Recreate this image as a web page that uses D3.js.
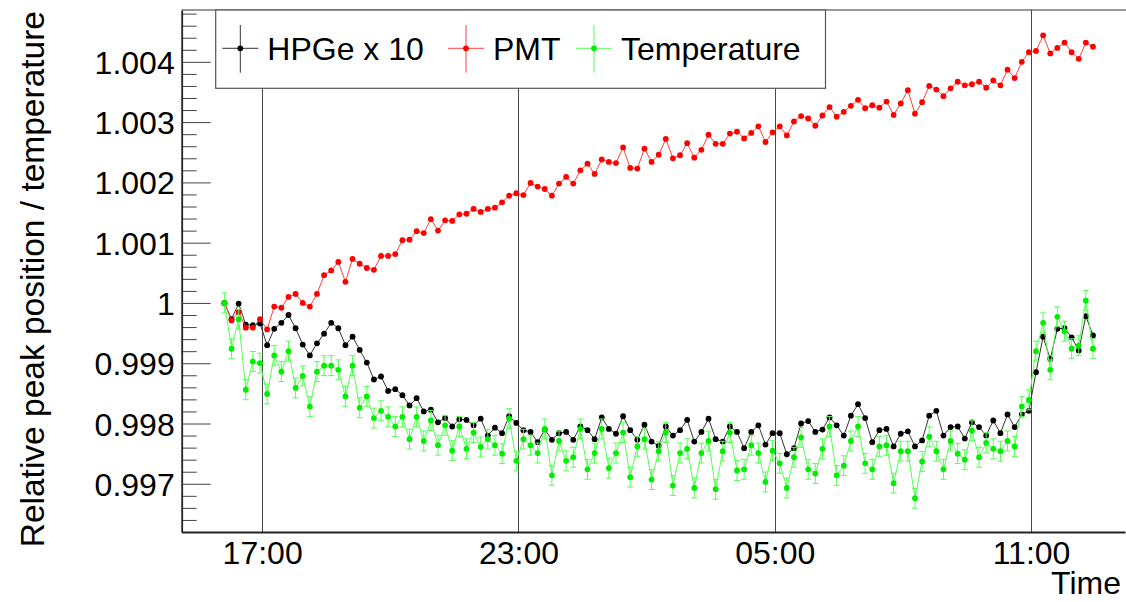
<!DOCTYPE html>
<html>
<head>
<meta charset="utf-8">
<script src="https://cdn.jsdelivr.net/npm/d3@7"></script>
<style>
  html, body { margin: 0; padding: 0; background: #ffffff; }
  svg { display: block; font-family: "Liberation Sans", Arial, Helvetica, sans-serif; }
</style>
</head>
<body>
<svg id="chart" width="1126" height="602"></svg>
<script>
// Sampling times (one reading every ten minutes, overnight run)
const sampleTimes = [
  "16:07","16:17","16:27","16:37","16:47","16:57",
  "17:07","17:17","17:27","17:37","17:47","17:57",
  "18:07","18:17","18:27","18:37","18:47","18:57",
  "19:07","19:17","19:27","19:37","19:47","19:57",
  "20:07","20:17","20:27","20:37","20:47","20:57",
  "21:07","21:17","21:27","21:37","21:47","21:57",
  "22:07","22:17","22:27","22:37","22:47","22:57",
  "23:07","23:17","23:27","23:37","23:47","23:57",
  "00:07","00:17","00:27","00:37","00:47","00:57",
  "01:07","01:17","01:27","01:37","01:47","01:57",
  "02:07","02:17","02:27","02:37","02:47","02:57",
  "03:07","03:17","03:27","03:37","03:47","03:57",
  "04:07","04:17","04:27","04:37","04:47","04:57",
  "05:07","05:17","05:27","05:37","05:47","05:57",
  "06:07","06:17","06:27","06:37","06:47","06:57",
  "07:07","07:17","07:27","07:37","07:47","07:57",
  "08:07","08:17","08:27","08:37","08:47","08:57",
  "09:07","09:17","09:27","09:37","09:47","09:57",
  "10:07","10:17","10:27","10:37","10:47","10:57",
  "11:07","11:17","11:27","11:37","11:47","11:57",
  "12:07","12:17","12:27"
];

// HPGe relative peak position, deviation scaled by 10
const hpgeX10 = [
  1.00000,0.99973,0.99999,0.99964,0.99963,0.99966,0.99930,0.99957,0.99967,0.99980,
  0.99958,0.99931,0.99913,0.99933,0.99949,0.99967,0.99958,0.99930,0.99944,0.99922,
  0.99901,0.99873,0.99878,0.99854,0.99857,0.99847,0.99830,0.99842,0.99820,0.99823,
  0.99802,0.99809,0.99795,0.99807,0.99806,0.99797,0.99808,0.99780,0.99793,0.99784,
  0.99812,0.99801,0.99789,0.99786,0.99769,0.99790,0.99773,0.99784,0.99786,0.99773,
  0.99795,0.99789,0.99774,0.99810,0.99791,0.99783,0.99812,0.99789,0.99773,0.99798,
  0.99770,0.99763,0.99795,0.99780,0.99789,0.99806,0.99770,0.99786,0.99808,0.99774,
  0.99770,0.99795,0.99786,0.99759,0.99786,0.99797,0.99765,0.99784,0.99784,0.99749,
  0.99759,0.99800,0.99804,0.99786,0.99790,0.99810,0.99797,0.99780,0.99813,0.99832,
  0.99809,0.99769,0.99789,0.99791,0.99762,0.99783,0.99787,0.99762,0.99772,0.99813,
  0.99821,0.99780,0.99794,0.99795,0.99775,0.99802,0.99794,0.99780,0.99805,0.99784,
  0.99815,0.99794,0.99815,0.99821,0.99885,0.99944,0.99907,0.99957,0.99958,0.99943,
  0.99921,0.99978,0.99946
];

// PMT relative peak position
const pmt = [
  1.00000,0.99971,0.99985,0.99959,0.99959,0.99973,0.99956,0.99994,0.99992,1.00010,
  1.00015,1.00000,0.99994,1.00015,1.00046,1.00054,1.00068,1.00035,1.00073,1.00065,
  1.00058,1.00055,1.00078,1.00078,1.00081,1.00104,1.00105,1.00119,1.00116,1.00139,
  1.00120,1.00137,1.00136,1.00147,1.00148,1.00156,1.00151,1.00156,1.00158,1.00167,
  1.00178,1.00182,1.00179,1.00199,1.00193,1.00189,1.00178,1.00198,1.00209,1.00198,
  1.00220,1.00231,1.00214,1.00238,1.00234,1.00232,1.00258,1.00224,1.00223,1.00256,
  1.00234,1.00246,1.00272,1.00240,1.00245,1.00265,1.00241,1.00254,1.00279,1.00264,
  1.00264,1.00281,1.00284,1.00273,1.00282,1.00293,1.00267,1.00283,1.00293,1.00278,
  1.00301,1.00310,1.00306,1.00294,1.00311,1.00325,1.00309,1.00317,1.00327,1.00337,
  1.00323,1.00328,1.00324,1.00334,1.00312,1.00331,1.00353,1.00314,1.00333,1.00360,
  1.00354,1.00343,1.00356,1.00367,1.00361,1.00363,1.00367,1.00357,1.00369,1.00361,
  1.00387,1.00373,1.00400,1.00416,1.00418,1.00444,1.00414,1.00423,1.00432,1.00416,
  1.00405,1.00432,1.00425
];

// Relative temperature
const temperature = [
  1.00000,0.99924,0.99973,0.99856,0.99903,0.99900,0.99849,0.99913,0.99886,0.99920,
  0.99859,0.99879,0.99828,0.99886,0.99896,0.99896,0.99889,0.99845,0.99896,0.99826,
  0.99845,0.99809,0.99821,0.99811,0.99795,0.99811,0.99774,0.99811,0.99771,0.99805,
  0.99764,0.99797,0.99755,0.99795,0.99758,0.99785,0.99761,0.99774,0.99764,0.99750,
  0.99808,0.99738,0.99774,0.99764,0.99751,0.99791,0.99714,0.99771,0.99738,0.99744,
  0.99791,0.99724,0.99751,0.99791,0.99726,0.99751,0.99785,0.99711,0.99762,0.99774,
  0.99707,0.99754,0.99785,0.99697,0.99751,0.99758,0.99693,0.99751,0.99771,0.99691,
  0.99754,0.99785,0.99722,0.99724,0.99764,0.99751,0.99703,0.99755,0.99734,0.99693,
  0.99744,0.99777,0.99724,0.99717,0.99758,0.99795,0.99714,0.99730,0.99771,0.99795,
  0.99734,0.99724,0.99762,0.99764,0.99701,0.99754,0.99754,0.99676,0.99737,0.99778,
  0.99754,0.99724,0.99771,0.99750,0.99740,0.99788,0.99744,0.99768,0.99758,0.99754,
  0.99771,0.99762,0.99828,0.99839,0.99920,0.99967,0.99889,0.99977,0.99953,0.99924,
  0.99929,1.00004,0.99924
];

// Uncertainty of each temperature reading
const temperatureError = 0.000165;

// Axis labelling
const timeTickLabels = ["17:00", "23:00", "05:00", "11:00"];
const valueTicks = [0.997, 0.998, 0.999, 1.000, 1.001, 1.002, 1.003, 1.004];
const legendLabels = ["HPGe x 10", "PMT", "Temperature"];
const yTitle = "Relative peak position / temperature";
const xTitle = "Time";

// ---------------------------------------------------------------------------
const W = 1126, H = 602;
const frame = { left: 181.7, top: 10, right: 1125, bottom: 532 };
const LABEL_FONT = 32;
const TITLE_FONT = 33.5;

// Times run past midnight: roll the clock over into the next day
function toDates(labels) {
  const out = [];
  let dayOffset = 0, prev = -1;
  labels.forEach(s => {
    const [h, m] = s.split(":").map(Number);
    const mins = h * 60 + m;
    if (prev >= 0 && mins < prev) dayOffset += 1;
    prev = mins;
    out.push(new Date(2000, 0, 1 + dayOffset, h, m));
  });
  return out;
}
const times = toDates(sampleTimes);
const tickDates = timeTickLabels.map(s => {
  const [h, m] = s.split(":").map(Number);
  return new Date(2000, 0, h >= 15 ? 1 : 2, h, m);
});

const x = d3.scaleTime()
  .domain([new Date(2000, 0, 1, 15, 7), new Date(2000, 0, 2, 13, 12)])
  .range([frame.left, frame.right]);
const y = d3.scaleLinear()
  .domain([0.9962, 1.00486])
  .range([frame.bottom, frame.top]);

const svg = d3.select("#chart");
svg.append("rect").attr("width", W).attr("height", H).attr("fill", "#ffffff");

// Vertical grid lines at the labelled times
svg.append("g").selectAll("line").data(tickDates).join("line")
  .attr("x1", d => Math.round(x(d)) + 0.5).attr("x2", d => Math.round(x(d)) + 0.5)
  .attr("y1", frame.top).attr("y2", frame.bottom)
  .attr("stroke", "#4a4a4a").attr("stroke-width", 1);

// Frame top edge (the right edge falls at the border of the canvas)
svg.append("line")
  .attr("x1", frame.left).attr("x2", W + 2).attr("y1", frame.top).attr("y2", frame.top)
  .attr("stroke", "#333").attr("stroke-width", 1.2);

// Y axis: major ticks with labels, minor ticks every 0.0002 (drawn inward)
const minorTicks = d3.range(0, 44).map(k => +(0.9962 + k * 0.0002).toFixed(4))
  .filter(v => v <= 1.00486 && !valueTicks.some(t => Math.abs(t - v) < 1e-7));
const yMinor = d3.axisLeft(y).tickValues(minorTicks).tickSizeInner(-15).tickSizeOuter(0).tickFormat("");
const yMajor = d3.axisLeft(y).tickValues(valueTicks).tickSizeInner(-29).tickSizeOuter(0)
  .tickPadding(7).tickFormat(d => d3.format("")(+d.toFixed(3)));

const gMinor = svg.append("g").attr("transform", `translate(${frame.left},0)`).call(yMinor);
gMinor.select(".domain").remove();
gMinor.selectAll(".tick line").attr("stroke", "#444").attr("stroke-width", 1);

const gMajor = svg.append("g").attr("transform", `translate(${frame.left},0)`).call(yMajor);
gMajor.select(".domain").attr("stroke", "#222").attr("stroke-width", 1.8);
gMajor.selectAll(".tick line").attr("stroke", "#444").attr("stroke-width", 1);
gMajor.selectAll(".tick text")
  .attr("font-size", LABEL_FONT).attr("font-family", "Liberation Sans, Arial, sans-serif")
  .attr("fill", "#000").attr("dy", "0.36em");

// X axis: labels only, the grid carries the tick positions
const xAxis = d3.axisBottom(x).tickValues(tickDates).tickSize(0).tickPadding(9.5)
  .tickFormat(d3.timeFormat("%H:%M"));
const gx = svg.append("g").attr("transform", `translate(0,${frame.bottom})`).call(xAxis);
gx.select(".domain").attr("stroke", "#222").attr("stroke-width", 2);
gx.selectAll(".tick text")
  .attr("font-size", LABEL_FONT).attr("font-family", "Liberation Sans, Arial, sans-serif")
  .attr("fill", "#000");

// Axis titles
svg.append("text")
  .attr("transform", `translate(43.5,11) rotate(-90)`)
  .attr("text-anchor", "end").attr("font-size", TITLE_FONT).attr("fill", "#000")
  .text(yTitle);
svg.append("text")
  .attr("x", 1121).attr("y", 594)
  .attr("text-anchor", "end").attr("font-size", LABEL_FONT).attr("fill", "#000")
  .text(xTitle);

// Series
const series = [
  { label: legendLabels[0], values: hpgeX10, color: "#000000", line: "#333333" },
  { label: legendLabels[1], values: pmt, color: "#ff0000", line: "#ff4040" },
  { label: legendLabels[2], values: temperature, color: "#00ee00", line: "#55ff55", err: temperatureError }
];

const plot = svg.append("g");
series.forEach(s => {
  const pts = s.values.map((v, i) => ({ t: times[i], v }));
  const g = plot.append("g");
  if (s.err) {
    const eb = g.append("g").attr("stroke", s.line).attr("stroke-width", 1);
    pts.forEach(p => {
      const cx = x(p.t), y0 = y(p.v - s.err), y1 = y(p.v + s.err);
      eb.append("line").attr("x1", cx).attr("x2", cx).attr("y1", y0).attr("y2", y1);
      eb.append("line").attr("x1", cx - 3).attr("x2", cx + 3).attr("y1", y0).attr("y2", y0);
      eb.append("line").attr("x1", cx - 3).attr("x2", cx + 3).attr("y1", y1).attr("y2", y1);
    });
  }
  g.append("path")
    .attr("d", d3.line().x(p => x(p.t)).y(p => y(p.v))(pts))
    .attr("fill", "none").attr("stroke", s.line).attr("stroke-width", 1);
  g.selectAll("circle").data(pts).join("circle")
    .attr("cx", p => x(p.t)).attr("cy", p => y(p.v)).attr("r", 2.9)
    .attr("fill", s.color);
});

// Legend
const legend = svg.append("g");
legend.append("rect")
  .attr("x", 215.7).attr("y", 10).attr("width", 825.5 - 215.7).attr("height", 88.3 - 10)
  .attr("fill", "#ffffff").attr("stroke", "#555").attr("stroke-width", 1.2);
const legendX = [240.3, 466, 594];
const legendY = 48.3;
series.forEach((s, i) => {
  const cx = legendX[i];
  legend.append("line").attr("x1", cx - 18).attr("x2", cx + 18).attr("y1", legendY).attr("y2", legendY)
    .attr("stroke", s.line).attr("stroke-width", 1);
  legend.append("line").attr("x1", cx).attr("x2", cx).attr("y1", 25).attr("y2", 72.7)
    .attr("stroke", s.line).attr("stroke-width", 1);
  legend.append("circle").attr("cx", cx).attr("cy", legendY).attr("r", 2.9).attr("fill", s.color);
  legend.append("text").attr("x", cx + 27).attr("y", 60)
    .attr("font-size", LABEL_FONT).attr("fill", "#000").text(s.label);
});
</script>
</body>
</html>
